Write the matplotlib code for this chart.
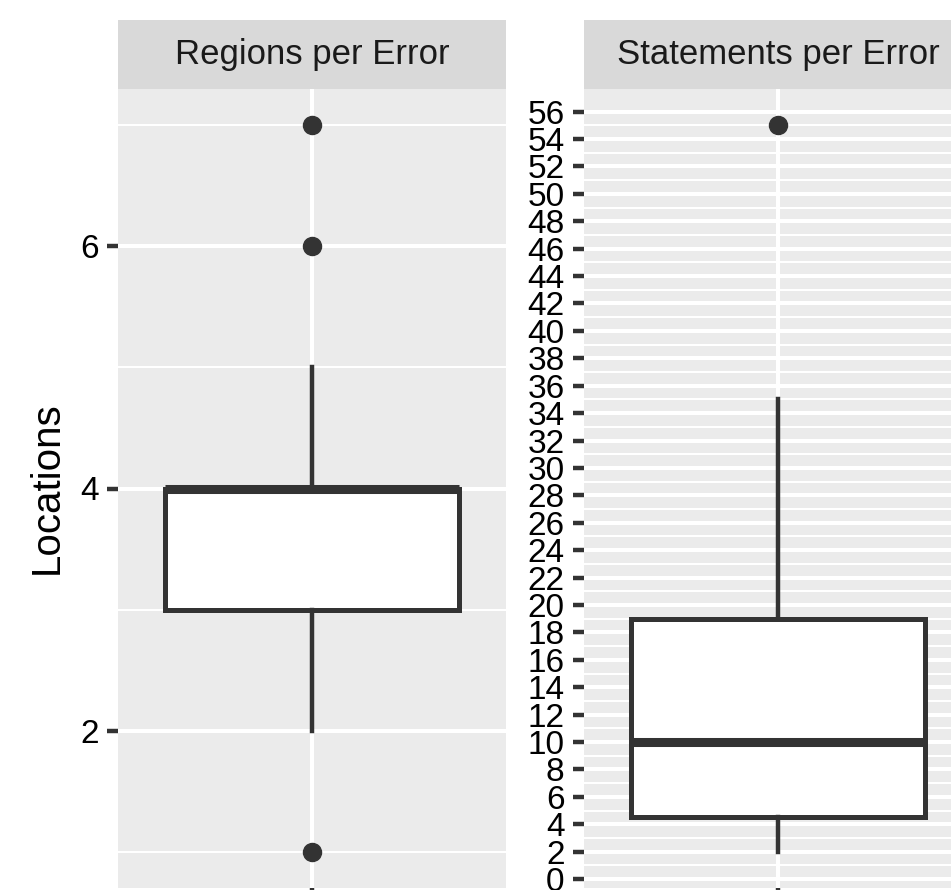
import matplotlib
matplotlib.use("Agg")
import matplotlib.pyplot as plt
import numpy as np

plt.rcParams['font.family'] = ['Liberation Sans', 'DejaVu Sans']

# facet titles
panels = ["Regions per Error", "Statements per Error"]

# box statistics
regions_stats = {"whislo": 2, "q1": 3, "med": 4, "q3": 4, "whishi": 5}
regions_outliers = [1, 6, 7]
statements_stats = {"whislo": 2, "q1": 4.5, "med": 10, "q3": 19, "whishi": 35}
statements_outliers = [55]

regions_ticks = [2, 4, 6]
regions_minor = [1, 3, 5, 7]
statements_ticks = list(range(0, 57, 2))
statements_minor = list(range(1, 57, 2))

panel_bg = "#EBEBEB"
strip_bg = "#D9D9D9"
dark = "#333333"

W, H = 951, 890
fig = plt.figure(figsize=(W / 100, H / 100), dpi=100)


def px_axes(x0, x1, y0, y1):
    return fig.add_axes([x0 / W, (H - y1) / H, (x1 - x0) / W, (y1 - y0) / H])


def draw_panel(ax, stats, outliers, ticks, minor, title, strip):
    st = dict(stats)
    st["fliers"] = outliers
    ax.set_facecolor(panel_bg)
    ax.bxp([st], positions=[1], widths=0.91, showcaps=False, patch_artist=True,
           boxprops=dict(facecolor="white", edgecolor=dark, linewidth=3.6),
           whiskerprops=dict(color=dark, linewidth=3.2),
           medianprops=dict(color=dark, linewidth=6.5, solid_capstyle="butt"),
           flierprops=dict(marker="o", markersize=13, markerfacecolor=dark,
                           markeredgecolor=dark))
    lo = min(st["whislo"], min(outliers))
    hi = max(st["whishi"], max(outliers))
    pad = (hi - lo) * 0.05
    ax.set_ylim(lo - pad, hi + pad)
    ax.set_xlim(0.4, 1.6)
    ax.set_yticks(ticks)
    ax.set_yticks(minor, minor=True)
    ax.set_xticks([1])
    ax.set_xticklabels([""])
    ax.grid(True, which="major", color="white", linewidth=2.9)
    ax.grid(True, which="minor", axis="y", color="white", linewidth=1.5)
    ax.set_axisbelow(True)
    for s in ax.spines.values():
        s.set_visible(False)
    ax.tick_params(axis="both", which="major", length=8, width=3.2, color=dark,
                   labelsize=24, labelcolor="black", pad=6)
    ax.tick_params(axis="y", which="minor", length=0)

    strip.set_facecolor(strip_bg)
    strip.set_xticks([])
    strip.set_yticks([])
    for s in strip.spines.values():
        s.set_visible(False)
    strip.text(0.5, 0.5, title, ha="center", va="center", fontsize=25,
               color="#1A1A1A", transform=strip.transAxes)


ax1 = px_axes(118, 506, 89, 888)
s1 = px_axes(118, 506, 20, 89)
ax2 = px_axes(584, 972, 89, 888)
s2 = px_axes(584, 972, 20, 89)

draw_panel(ax1, regions_stats, regions_outliers, regions_ticks, regions_minor, panels[0], s1)
draw_panel(ax2, statements_stats, statements_outliers, statements_ticks, statements_minor, panels[1], s2)

fig.text(47 / W, 1 - 488 / H, "Locations", rotation=90, ha="center", va="center",
         fontsize=29, color="black")

fig.savefig("out.png", dpi=100)
